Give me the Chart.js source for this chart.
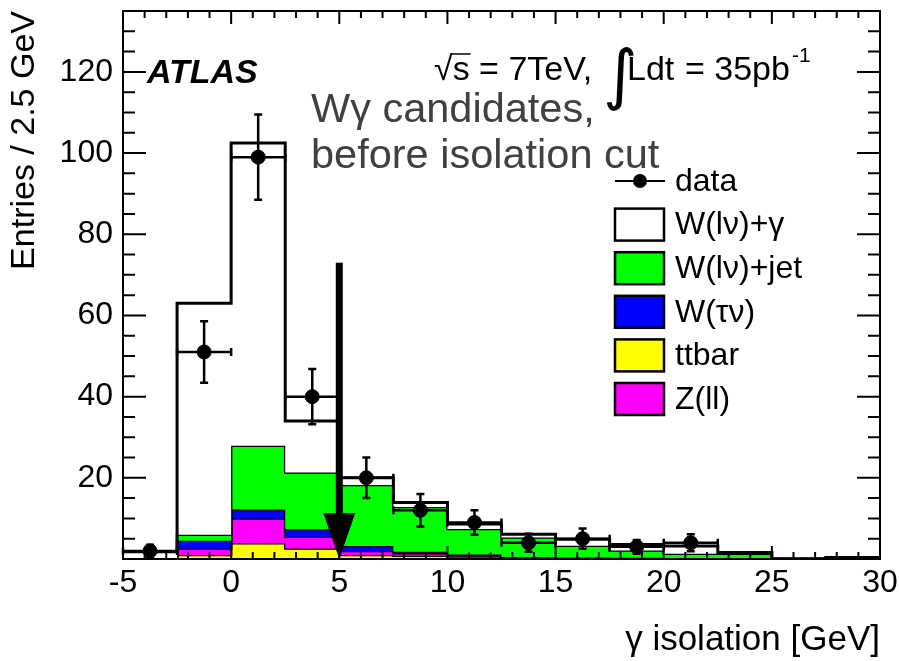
<!DOCTYPE html>
<html>
<head>
<meta charset="utf-8">
<script src="https://cdn.jsdelivr.net/npm/chart.js@4.4.1/dist/chart.umd.min.js"></script>
<style>
html, body { margin: 0; padding: 0; background: #fff; }
#wrap { width: 899px; height: 661px; }
</style>
</head>
<body>
<div id="wrap"><canvas id="isoChart" width="899" height="661"></canvas></div>
<script>
// histogram bins, 2.5 GeV wide
const binEdges = [-5, -2.5, 0, 2.5, 5, 7.5, 10, 12.5, 15, 17.5, 20, 22.5, 25, 27.5, 30];

// MC components per bin (stacked bottom -> top)
const ttbar  = [0, 1.0, 3.9, 2.6, 1.0, 0.8, 0.6, 0.3, 0.2, 0.2, 0.1, 0.05, 0, 0];
const zll    = [0, 1.5, 6.1, 2.9, 1.0, 0.6, 0.3, 0.1, 0.1, 0.05, 0.05, 0, 0, 0];
const wtaunu = [0, 2.0, 2.2, 1.8, 1.2, 0.4, 0.2, 0.1, 0.05, 0.05, 0.05, 0.05, 0, 0];
const wjet   = [0, 1.5, 15.7, 14.0, 15.0, 11.0, 6.3, 4.8, 2.9, 1.8, 1.1, 1.2, 0, 0.4];
const wgamma = [1.8, 57, 74.6, 12.7, 1.8, 1.1, 1.2, 0.8, 1.6, 1.5, 1.9, 0.3, 0, 0];

// data points
const dataX   = [-3.75, -1.25, 1.25, 3.75, 6.25, 8.75, 11.25, 13.75, 16.25, 18.75, 21.25];
const dataY   = [2, 51, 99, 40, 20, 12, 9, 4, 5, 3, 4];
const dataErr = [1.5, 7.6, 10.5, 6.8, 5, 4, 3, 2.2, 2.5, 1.7, 2.1];

const xTicks = [-5, 0, 5, 10, 15, 20, 25, 30];
const yTicks = [20, 40, 60, 80, 100, 120];

const cutValue = 5;    // isolation cut
const arrowTop = 73;

const legendLabels = ['data', 'W(lν)+γ', 'W(lν)+jet', 'W(τν)', 'ttbar', 'Z(ll)'];

const FONT = '"Liberation Sans", Arial, sans-serif';
Chart.defaults.font.family = FONT;
Chart.defaults.color = '#000';

// running sum of layers -> stepped outline points
let running = new Array(ttbar.length).fill(0);
function layer(vals) {
  running = running.map((v, i) => v + vals[i]);
  const pts = running.map((v, i) => ({x: binEdges[i], y: v}));
  pts.push({x: binEdges[binEdges.length - 1], y: running[running.length - 1]});
  return pts;
}

function histSet(label, vals, color, fill, order, bw) {
  return {
    label: label,
    data: layer(vals),
    stepped: true,
    borderColor: '#000',
    borderWidth: bw,
    backgroundColor: color,
    fill: fill,
    pointRadius: 0,
    order: order
  };
}

const datasets = [
  histSet('ttbar', ttbar, '#ffff00', 'origin', 5, 2.5),
  histSet('Z(ll)', zll, '#ff00ff', '-1', 4, 2.5),
  histSet('W(τν)', wtaunu, '#0000ff', '-1', 3, 2.5),
  histSet('W(lν)+jet', wjet, '#00ff00', '-1', 2, 2.5),
  histSet('W(lν)+γ', wgamma, '#ffffff', '-1', 1, 3),
  {
    label: 'data',
    data: dataX.map((x, i) => ({x: x, y: dataY[i]})),
    showLine: false,
    pointRadius: 7,
    pointBackgroundColor: '#000',
    pointBorderColor: '#000',
    order: 0
  }
];

function drawErrorBars(chart) {
  const {ctx, scales: {x, y}} = chart;
  const half = (binEdges[1] - binEdges[0]) / 2;
  ctx.save();
  ctx.strokeStyle = '#000';
  ctx.lineWidth = 2.5;
  dataX.forEach((xv, i) => {
    const px = x.getPixelForValue(xv), py = y.getPixelForValue(dataY[i]);
    const xl = x.getPixelForValue(xv - half), xr = x.getPixelForValue(xv + half);
    const yt = y.getPixelForValue(dataY[i] + dataErr[i]);
    const yb = y.getPixelForValue(Math.max(0, dataY[i] - dataErr[i]));
    ctx.beginPath();
    ctx.moveTo(xl, py); ctx.lineTo(xr, py);
    ctx.moveTo(px, yt); ctx.lineTo(px, yb);
    ctx.moveTo(xl, py - 4); ctx.lineTo(xl, py + 4);
    ctx.moveTo(xr, py - 4); ctx.lineTo(xr, py + 4);
    ctx.moveTo(px - 4, yt); ctx.lineTo(px + 4, yt);
    ctx.moveTo(px - 4, yb); ctx.lineTo(px + 4, yb);
    ctx.stroke();
  });
  ctx.restore();
}

function drawArrow(chart) {
  const {ctx, scales: {x, y}} = chart;
  const ax = x.getPixelForValue(cutValue);
  const tip = y.getPixelForValue(0), top = y.getPixelForValue(arrowTop);
  const head = 46;
  ctx.save();
  ctx.fillStyle = '#000';
  ctx.fillRect(ax - 3.5, top, 7, tip - head - top + 2);
  ctx.beginPath();
  ctx.moveTo(ax - 16, tip - head);
  ctx.lineTo(ax + 16, tip - head);
  ctx.lineTo(ax, tip);
  ctx.closePath();
  ctx.fill();
  ctx.restore();
}

// ROOT style frame with inward ticks
function drawFrame(chart) {
  const {ctx, chartArea: a, scales: {x, y}} = chart;
  ctx.save();
  ctx.strokeStyle = '#000';
  ctx.lineWidth = 2;
  ctx.strokeRect(a.left, a.top, a.right - a.left, a.bottom - a.top);
  ctx.beginPath();
  for (let v = x.min; v <= x.max; v += 1) {
    const px = x.getPixelForValue(v);
    const len = v % 5 === 0 ? 13 : 7;
    ctx.moveTo(px, a.bottom); ctx.lineTo(px, a.bottom - len);
    ctx.moveTo(px, a.top); ctx.lineTo(px, a.top + len);
  }
  for (let v = 0; v <= y.max; v += 5) {
    const py = y.getPixelForValue(v);
    const len = v % 20 === 0 ? 23 : 12;
    ctx.moveTo(a.left, py); ctx.lineTo(a.left + len, py);
    ctx.moveTo(a.right, py); ctx.lineTo(a.right - len, py);
  }
  ctx.stroke();
  ctx.restore();
}

function drawLegend(chart) {
  const ctx = chart.ctx;
  const x0 = 615, w = 49, h = 32, y0 = 181, step = 43.6;
  ctx.save();
  ctx.font = '32px ' + FONT;
  ctx.textBaseline = 'middle';
  ctx.fillStyle = '#000';
  ctx.strokeStyle = '#000';
  // data entry
  ctx.lineWidth = 2;
  ctx.beginPath();
  ctx.moveTo(x0, y0); ctx.lineTo(x0 + 50, y0);
  ctx.stroke();
  ctx.beginPath();
  ctx.arc(x0 + 25, y0, 7, 0, Math.PI * 2);
  ctx.fill();
  ctx.fillText(legendLabels[0], 675, y0 + 1);
  // boxes, top of stack first
  const order = [4, 3, 2, 0, 1];
  order.forEach((di, k) => {
    const cy = y0 + step * (k + 1);
    ctx.fillStyle = chart.data.datasets[di].backgroundColor;
    ctx.fillRect(x0, cy - h / 2, w, h);
    ctx.lineWidth = 2.5;
    ctx.strokeRect(x0, cy - h / 2, w, h);
    ctx.fillStyle = '#000';
    ctx.fillText(legendLabels[k + 1], 675, cy + 1);
  });
  ctx.restore();
}

function drawLabels(chart) {
  const ctx = chart.ctx;
  ctx.save();
  ctx.fillStyle = '#000';
  ctx.strokeStyle = '#000';
  ctx.textBaseline = 'alphabetic';
  ctx.font = 'italic bold 34px ' + FONT;
  ctx.fillText('ATLAS', 147, 83);

  ctx.font = '34px ' + FONT;
  ctx.fillText('√', 434, 80);
  const sx = 434 + ctx.measureText('√').width;
  ctx.fillText('s = 7TeV,', sx, 80);
  ctx.lineWidth = 1.5;
  ctx.beginPath();
  ctx.moveTo(sx - 1, 54); ctx.lineTo(sx + ctx.measureText('s').width + 1, 54);
  ctx.stroke();
  ctx.font = '66px "DejaVu Sans", sans-serif';
  ctx.fillText('∫', 603, 97);
  ctx.font = '34px ' + FONT;
  ctx.fillText('Ldt', 627, 80);
  ctx.fillText('= 35pb', 685, 80);
  const ex = 685 + ctx.measureText('= 35pb').width + 2;
  ctx.font = '21px ' + FONT;
  ctx.fillText('-1', ex, 62);

  ctx.fillStyle = '#404040';
  ctx.font = '41.5px ' + FONT;
  ctx.fillText('Wγ candidates,', 311, 122);
  ctx.fillText('before isolation cut', 311, 168);
  ctx.restore();
}

const decor = {
  id: 'decor',
  afterDatasetDraw(chart, args) {
    if (args.index === 4) drawErrorBars(chart);
  },
  afterDatasetsDraw(chart) {
    drawArrow(chart);
    drawFrame(chart);
  },
  afterDraw(chart) {
    drawLegend(chart);
    drawLabels(chart);
  }
};

new Chart(document.getElementById('isoChart'), {
  type: 'line',
  data: { datasets: datasets },
  plugins: [decor],
  options: {
    responsive: false,
    animation: false,
    layout: { padding: { top: 11, right: 19, left: 0, bottom: 0 } },
    plugins: {
      legend: { display: false },
      tooltip: { enabled: false }
    },
    scales: {
      x: {
        type: 'linear',
        min: -5,
        max: 30,
        grid: { display: false, drawTicks: false },
        border: { display: false },
        afterBuildTicks: s => { s.ticks = xTicks.map(v => ({value: v})); },
        ticks: { font: { size: 32 }, padding: 5, maxRotation: 0 },
        title: { display: true, text: 'γ isolation [GeV]', align: 'end', font: { size: 35 }, padding: { bottom: 0 } },
        afterFit: s => { s.height = 102; s.paddingLeft = 0; s.paddingRight = 0; }
      },
      y: {
        min: 0,
        max: 135,
        grid: { display: false, drawTicks: false },
        border: { display: false },
        afterBuildTicks: s => { s.ticks = yTicks.map(v => ({value: v})); },
        ticks: { font: { size: 32 }, padding: 10 },
        title: { display: true, text: 'Entries / 2.5 GeV', align: 'end', font: { size: 34 }, padding: { top: 4 } },
        afterFit: s => { s.width = 123; s.paddingTop = 0; s.paddingBottom = 0; }
      }
    }
  }
});
</script>
</body>
</html>
